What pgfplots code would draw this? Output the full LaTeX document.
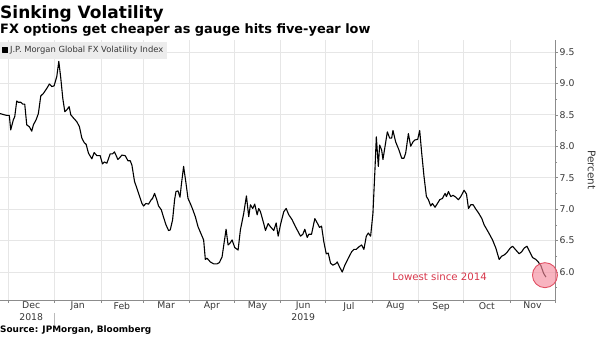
\documentclass[border=0pt]{standalone}
\usepackage{pgfplots}
\usepackage{pgfplotstable}
\pgfplotsset{compat=1.18}
\usepackage{fontspec}
\setmainfont{DejaVu Sans}
\definecolor{gridc}{RGB}{230,230,230}
\definecolor{axc}{RGB}{140,140,140}
\definecolor{labc}{RGB}{55,55,55}
\definecolor{pinkf}{RGB}{245,140,158}
\definecolor{pinkd}{RGB}{225,80,100}
\definecolor{redt}{RGB}{215,55,75}
\definecolor{legbg}{RGB}{236,236,236}
\newcommand\tickfont{\fontsize{9.3}{11.5}\selectfont}

% day = days since 1 Dec 2018, vol = index level (percent)
\pgfplotstableread{
day vol
-5.35 8.52
-0.87 8.49
0.87 8.49
1.80 8.26
3.54 8.42
4.48 8.47
5.82 8.72
6.88 8.70
8.49 8.70
9.83 8.67
11.16 8.67
12.50 8.34
14.24 8.31
15.84 8.24
16.91 8.34
18.72 8.42
20.25 8.52
21.86 8.80
23.59 8.84
25.87 8.92
27.60 8.99
29.21 8.95
30.75 8.96
32.55 9.11
33.89 9.35
35.22 9.08
36.56 8.76
37.90 8.55
39.24 8.58
40.77 8.63
41.91 8.50
43.65 8.45
45.92 8.39
47.66 8.31
49.26 8.13
50.80 8.06
52.14 8.03
53.67 7.89
55.95 7.80
57.48 7.90
59.29 7.85
61.49 7.85
63.03 7.72
64.37 7.75
65.97 7.73
68.18 7.88
69.71 7.88
71.05 7.91
73.32 7.79
74.19 7.81
76.00 7.86
78.20 7.85
80.01 7.77
81.54 7.77
82.68 7.70
84.42 7.44
86.02 7.33
87.56 7.22
89.37 7.09
90.44 7.05
92.04 7.09
93.78 7.08
95.58 7.15
96.45 7.17
97.79 7.25
99.12 7.16
100.46 7.05
102.27 6.99
103.80 6.87
105.41 6.75
107.15 6.66
108.28 6.67
109.82 6.83
111.16 7.15
112.09 7.28
113.43 7.29
114.77 7.19
115.63 7.38
117.17 7.68
118.77 7.41
120.11 7.17
121.65 7.09
123.18 7.00
124.99 6.88
126.80 6.72
129.47 6.57
130.54 6.51
131.67 6.20
132.81 6.22
135.02 6.16
137.22 6.13
139.50 6.13
141.03 6.15
142.84 6.24
144.17 6.46
145.51 6.68
146.85 6.43
148.18 6.46
149.52 6.51
151.26 6.39
153.53 6.35
155.07 6.67
157.27 6.93
159.08 7.21
160.62 6.88
161.75 7.07
163.29 7.01
164.63 7.08
166.24 6.91
167.30 7.01
168.44 6.96
170.64 6.77
171.78 6.66
173.58 6.77
175.12 6.72
177.33 6.66
178.93 6.78
180.27 6.57
181.80 6.75
184.01 6.96
185.61 7.01
187.35 6.91
189.62 6.83
191.83 6.72
193.63 6.64
195.17 6.57
196.71 6.60
198.05 6.68
199.65 6.55
200.72 6.60
202.53 6.60
204.73 6.85
206.34 6.78
207.87 6.71
209.21 6.73
210.75 6.48
212.35 6.29
213.69 6.30
215.22 6.14
216.76 6.11
218.57 6.13
219.70 6.16
221.24 6.08
223.04 6.00
224.78 6.11
227.06 6.22
229.26 6.32
230.80 6.36
232.40 6.36
234.14 6.40
235.95 6.43
237.48 6.36
239.09 6.57
240.42 6.62
241.96 6.57
243.50 6.93
244.84 7.62
245.77 8.15
247.11 7.68
247.98 8.02
249.32 7.94
250.19 7.79
251.53 7.99
253.13 8.23
254.66 8.13
256.00 8.13
256.87 8.25
258.67 8.07
260.88 7.94
262.68 7.81
264.22 7.81
265.35 7.89
267.16 8.20
268.70 8.00
270.24 8.07
271.57 8.10
273.38 8.11
274.71 8.25
276.05 7.89
277.59 7.52
279.19 7.20
280.53 7.15
282.07 7.05
283.20 7.09
284.94 7.03
286.55 7.09
288.09 7.15
289.89 7.17
291.63 7.25
292.57 7.20
293.90 7.28
295.45 7.20
296.98 7.22
298.79 7.19
300.59 7.15
302.13 7.20
304.34 7.30
305.94 7.24
307.27 7.01
308.82 7.07
310.36 7.07
312.17 7.00
313.97 6.94
316.18 6.85
317.71 6.75
320.38 6.64
323.32 6.51
325.53 6.38
327.73 6.20
329.34 6.25
331.07 6.27
332.88 6.31
335.09 6.38
336.67 6.41
338.89 6.35
341.09 6.29
342.69 6.32
344.43 6.38
346.23 6.41
347.77 6.34
350.04 6.23
352.25 6.20
353.82 6.16
355.60 6.10
357.39 5.98
358.93 5.92
}\voldata

\begin{document}
\begin{tikzpicture}
\useasboundingbox (0pt,-37pt) rectangle (600pt,300pt);
\begin{axis}[
  at={(0pt,0pt)}, anchor=south west,
  scale only axis, width=555pt, height=260pt,
  xmin=-5.35, xmax=365, ymin=5.555, ymax=9.69,
  clip=false,
  axis x line*=bottom, axis y line*=right,
  axis line style={-, axc, line width=0.7pt},
  tick align=outside,
  major tick length=3pt, minor tick length=2pt,
  tick style={axc, line width=0.6pt},
  xtick={0,31,62,90,121,151,182,212,243,274,304,335,365},
  xticklabels={},
  extra x ticks={15.5,46.5,76,105.5,136,166.5,197,227.5,258.5,289,319.5,350},
  extra x tick labels={{Dec\\2018},Jan,Feb,Mar,Apr,May,{Jun\\2019},Jul,Aug,Sep,Oct,Nov},
  extra x tick style={major tick length=0pt, grid=none},
  xticklabel style={align=center, font=\tickfont, text=labc, inner sep=1pt, yshift=-1pt},
  ytick={6,6.5,7,7.5,8,8.5,9,9.5},
  minor ytick={5.75,6.25,6.75,7.25,7.75,8.25,8.75,9.25},
  yticklabel style={font=\tickfont, text=labc, inner sep=1.5pt,
    /pgf/number format/.cd, fixed, fixed zerofill, precision=1, assume math mode=true},
  xmajorgrids, ymajorgrids,
  major grid style={gridc, line width=0.7pt},
  ylabel={Percent},
  every axis y label/.style={at={(axis description cs:1.066,0.5)}, anchor=center, rotate=-90,
    font=\fontsize{10.5}{12}\selectfont, text=labc},
  legend style={at={(0,0.994)}, anchor=north west, fill=legbg, draw=none,
    font=\fontsize{8.4}{10}\selectfont, text=labc, inner xsep=2pt, inner ysep=2.5pt},
  legend cell align=left,
  legend image code/.code={\fill[black] (0pt,-2.4pt) rectangle (4.8pt,2.4pt);},
]
\addplot[black, line width=1.1pt, line join=round] table[x=day, y=vol] {\voldata};
\addlegendentry{J.P. Morgan Global FX Volatility Index}
\addplot[only marks, mark=*, mark size=12.5pt, forget plot,
  mark options={fill=pinkf, fill opacity=0.65, draw=pinkd, line width=0.9pt}]
  coordinates {(358.3,5.95)};
\node[text=redt, font=\fontsize{10.2}{12}\selectfont] at (axis cs:288,5.92) {Lowest since 2014};
\draw[axc!60, line width=0.6pt] (axis cs:31,5.555) ++(0pt,-13pt) -- ++(0pt,-12pt);
\end{axis}
\node[anchor=base west, inner sep=0pt, font=\bfseries\fontsize{17}{20}\selectfont] at (0pt,281.7pt) {Sinking Volatility};
\node[anchor=base west, inner sep=0pt, font=\bfseries\fontsize{12.9}{15}\selectfont] at (0pt,266.7pt) {FX options get cheaper as gauge hits five-year low};
\node[anchor=base west, inner sep=0pt, font=\bfseries\fontsize{8.9}{10}\selectfont] at (0pt,-33pt) {Source: JPMorgan, Bloomberg};
\end{tikzpicture}
\end{document}
